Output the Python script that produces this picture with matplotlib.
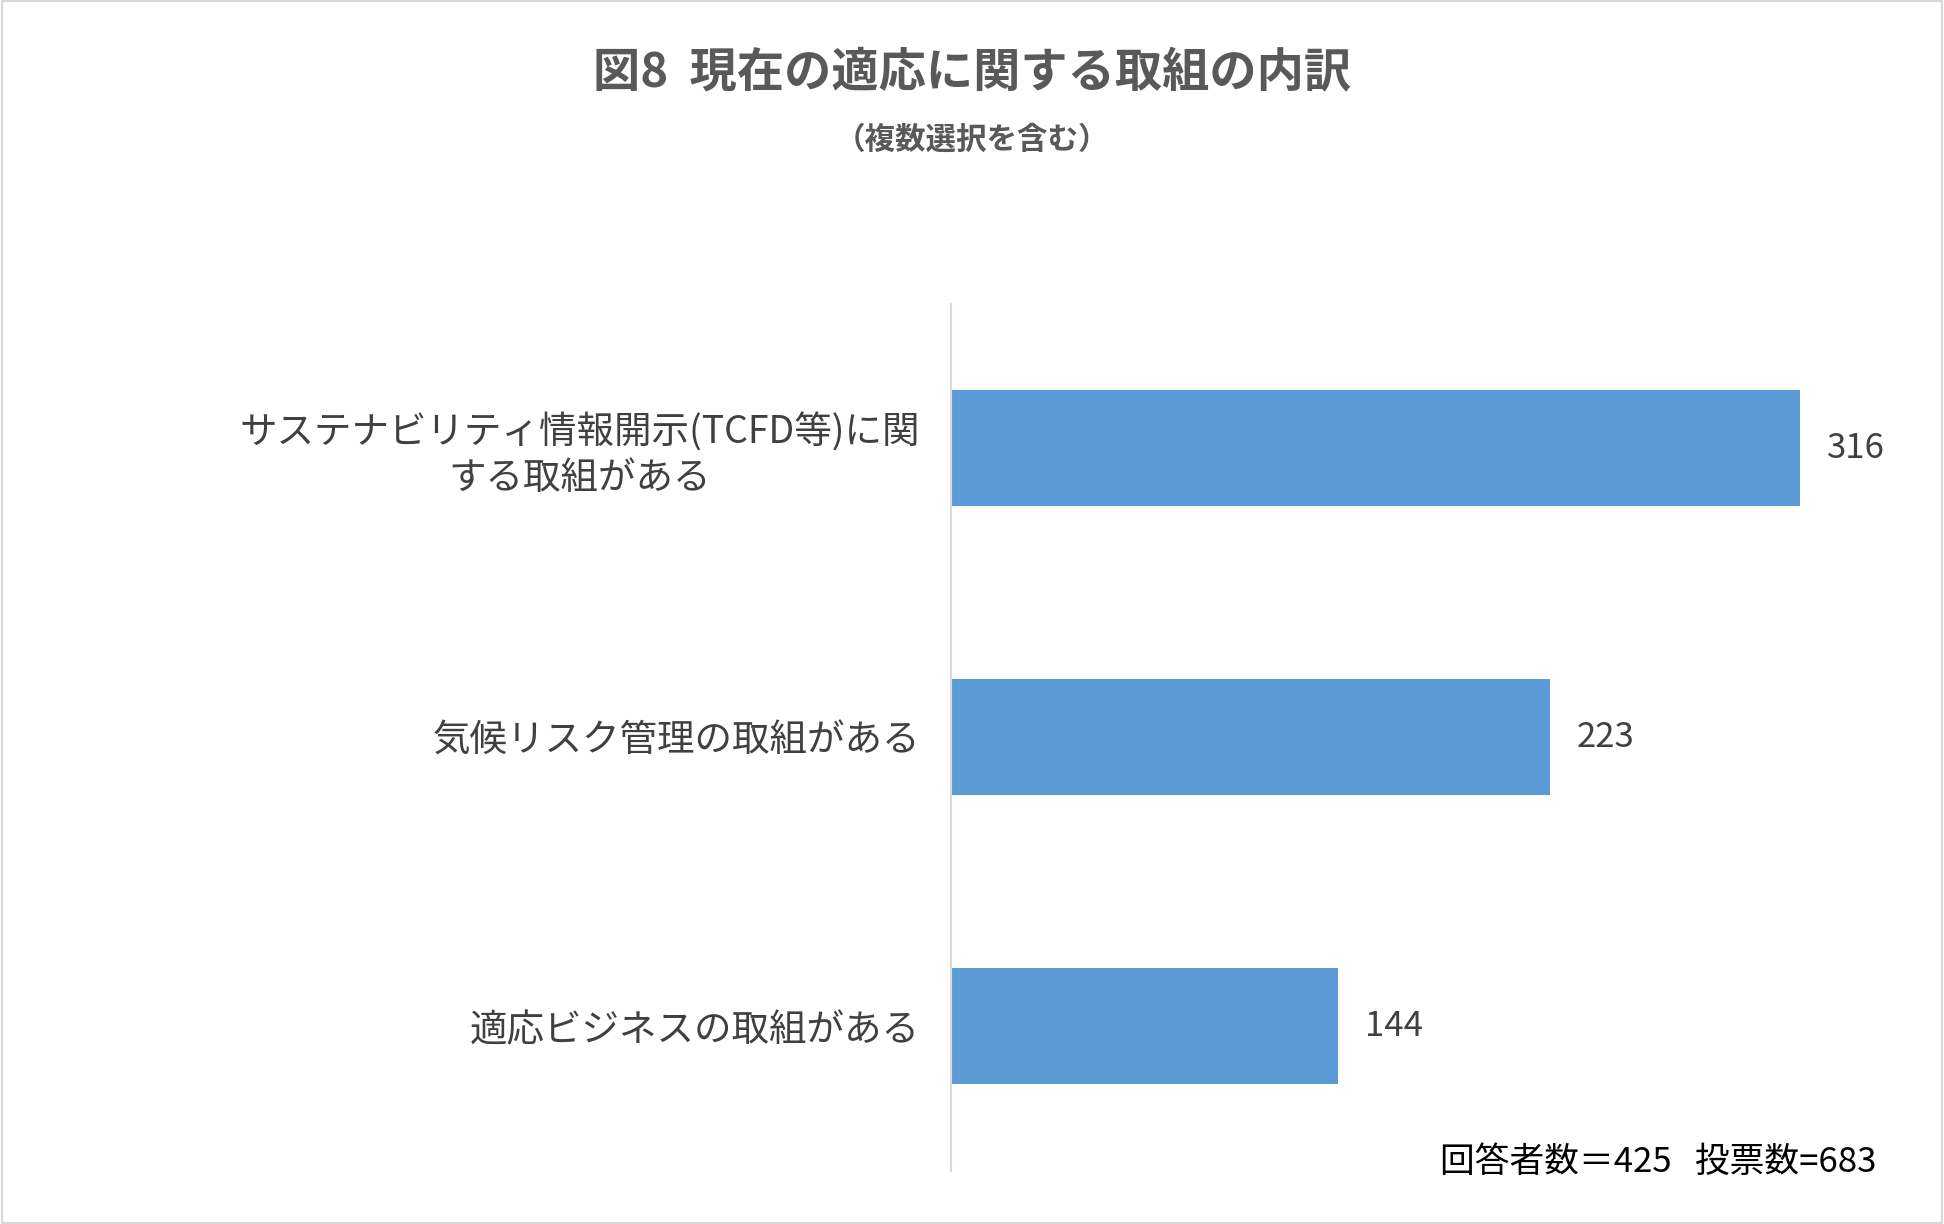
import matplotlib
matplotlib.use("Agg")
import matplotlib.pyplot as plt

plt.rcParams['font.family'] = ['Noto Sans CJK JP', 'DejaVu Sans']

categories = ["サステナビリティ情報開示(TCFD等)に関\nする取組がある",
              "気候リスク管理の取組がある",
              "適応ビジネスの取組がある"]
values = [316, 223, 144]
title = "図8  現在の適応に関する取組の内訳"
subtitle = "（複数選択を含む）"
footer = "回答者数＝425   投票数=683"

fig = plt.figure(figsize=(19.44, 12.24), dpi=100)
ax = fig.add_axes([0.489, 0.0435, 0.484, 0.7085])

pos = list(range(len(categories)))[::-1]
ax.barh(pos, values, height=0.4, color="#5B9BD5")
for p, v in zip(pos, values):
    ax.text(v + 10, p, str(v), va="center", ha="left", fontsize=25, color="#404040")

ax.set_xlim(0, 350)
ax.set_ylim(-0.5, 2.5)
ax.set_yticks(pos)
ax.set_yticklabels(categories, fontsize=27, color="#404040", ha="right", multialignment="center")
ax.tick_params(axis="y", length=0, pad=22)
ax.set_xticks([])
for s in ["top", "right", "bottom"]:
    ax.spines[s].set_visible(False)
ax.spines["left"].set_color("#D9D9D9")
ax.spines["left"].set_linewidth(1.5)

fig.text(0.5, 0.94, title, ha="center", va="center", fontsize=34,
         fontweight="bold", color="#595959")
fig.text(0.5, 0.886, subtitle, ha="center", va="center", fontsize=22,
         fontweight="bold", color="#595959")
fig.text(0.965, 0.05, footer, ha="right", va="center", fontsize=25, color="black")

fig.patches.append(plt.Rectangle((0.001, 0.001), 0.998, 0.998, transform=fig.transFigure,
                                 fill=False, edgecolor="#D9D9D9", linewidth=1.5))
fig.savefig("out.png", dpi=100)
